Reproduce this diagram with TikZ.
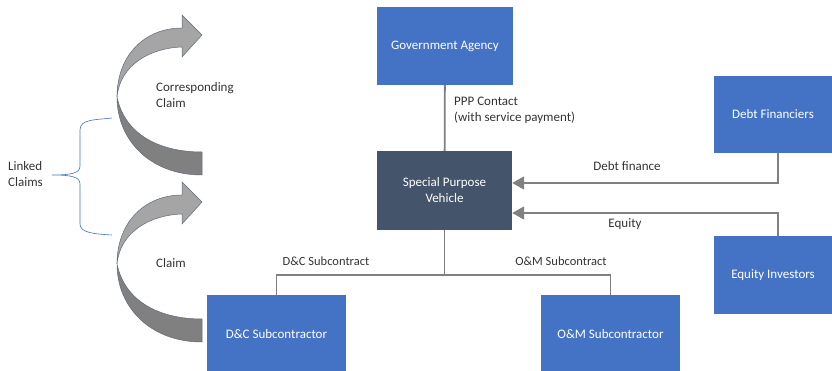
\documentclass[tikz,border=0pt]{standalone}
\usepackage{fontspec}
\setmainfont{Carlito}
\usetikzlibrary{arrows.meta}
\definecolor{boxblue}{HTML}{4472C4}
\definecolor{spvdark}{HTML}{44546A}
\definecolor{linegray}{HTML}{808080}
\definecolor{arrlight}{HTML}{A5A5A5}
\definecolor{arrdark}{HTML}{808080}
\definecolor{arredge}{HTML}{5F6B7A}
\tikzset{
  box/.style={rectangle, fill=boxblue, text=white, align=center, inner sep=0pt, font=\fontsize{13}{16}\selectfont},
  conn/.style={draw=linegray, line width=1.8pt},
  tip/.style={-{Triangle[length=12pt,width=13pt]}},
  lbl/.style={inner sep=0pt, text=black!80, font=\fontsize{13}{16}\selectfont},
  slbl/.style={inner sep=0pt, text=black!80, font=\fontsize{12.5}{15}\selectfont},
  light/.style={fill=arrlight, draw=arredge, line width=0.5pt},
  dark/.style={fill=arrdark, draw=arredge, line width=0.5pt},
}
\begin{document}
\begin{tikzpicture}[x=1pt,y=-1pt]
\useasboundingbox (0,0) rectangle (832,371);
\begin{scope}
\clip (0,0) rectangle (832,371);
% boxes
\node[box, minimum width=136pt, minimum height=78pt] (gov) at (445,46) {Government Agency};
\node[box, fill=spvdark, minimum width=135pt, minimum height=79pt] (spv) at (444.5,190.5) {Special Purpose\\Vehicle};
\node[box, minimum width=118pt, minimum height=77pt] (debt) at (773,114.5) {Debt Financiers};
\node[box, minimum width=118pt, minimum height=78pt] (eq) at (773,275) {Equity Investors};
\node[box, minimum width=139pt, minimum height=78pt] (dc) at (276.5,334) {D\&C Subcontractor};
\node[box, minimum width=139pt, minimum height=78pt] (om) at (610.5,334) {O\&M Subcontractor};
\coordinate (j) at (444.5,275);
\end{scope}
% connectors
\draw[conn] (gov) -- (spv);
\draw[conn, tip] ([xshift=5pt]debt.south) |- ([yshift=7.5pt]spv.east);
\draw[conn, tip] ([xshift=5pt]eq.north) |- ([yshift=-22.5pt]spv.east);
\draw[conn] (spv) -- (j);
\draw[conn] (dc.north) |- (j) -| (om.north);
% labels
\node[lbl, anchor=west, align=left] (ppp) at (454,110.5) {PPP Contact\\(with service payment)};
\node[lbl] (dfl) at (627,166) {Debt finance};
\node[lbl] (eql) at (625,224) {Equity};
\node[slbl] (dcl) at (326,261) {D\&C Subcontract};
\node[slbl] (oml) at (561,261) {O\&M Subcontract};
% curved arrows
\foreach \dy/\nm in {0/up,167/lo}{
  \begin{scope}[yshift=-\dy pt]
    \path[dark] (117,97) .. controls (117,140) and (150,175) .. (202,175) -- (202,152) .. controls (160,152) and (125,135) .. (117,97) -- cycle;
    \path[light] (117,97) .. controls (117,55) and (145,28) .. (182,28) -- (182,15) -- (202,35) -- (182,57) -- (182,47) .. controls (150,48) and (120,65) .. (117,97) -- cycle;
  \end{scope}
}
\node[lbl, anchor=west, align=left] (corr) at (156,95) {Corresponding\\Claim};
\node[lbl, anchor=west] (claim) at (156,263) {Claim};
% brace
\draw[boxblue, line width=0.6pt] (112,118) .. controls (95,120) and (80,119) .. (80,130) -- (80,166) .. controls (80,173) and (72,175) .. (52,175) .. controls (72,175) and (80,177) .. (80,184) -- (80,224) .. controls (80,233) and (95,234) .. (112,235);
\node[lbl, anchor=west, align=left] (linked) at (8,174.5) {Linked\\Claims};
\end{tikzpicture}
\end{document}
